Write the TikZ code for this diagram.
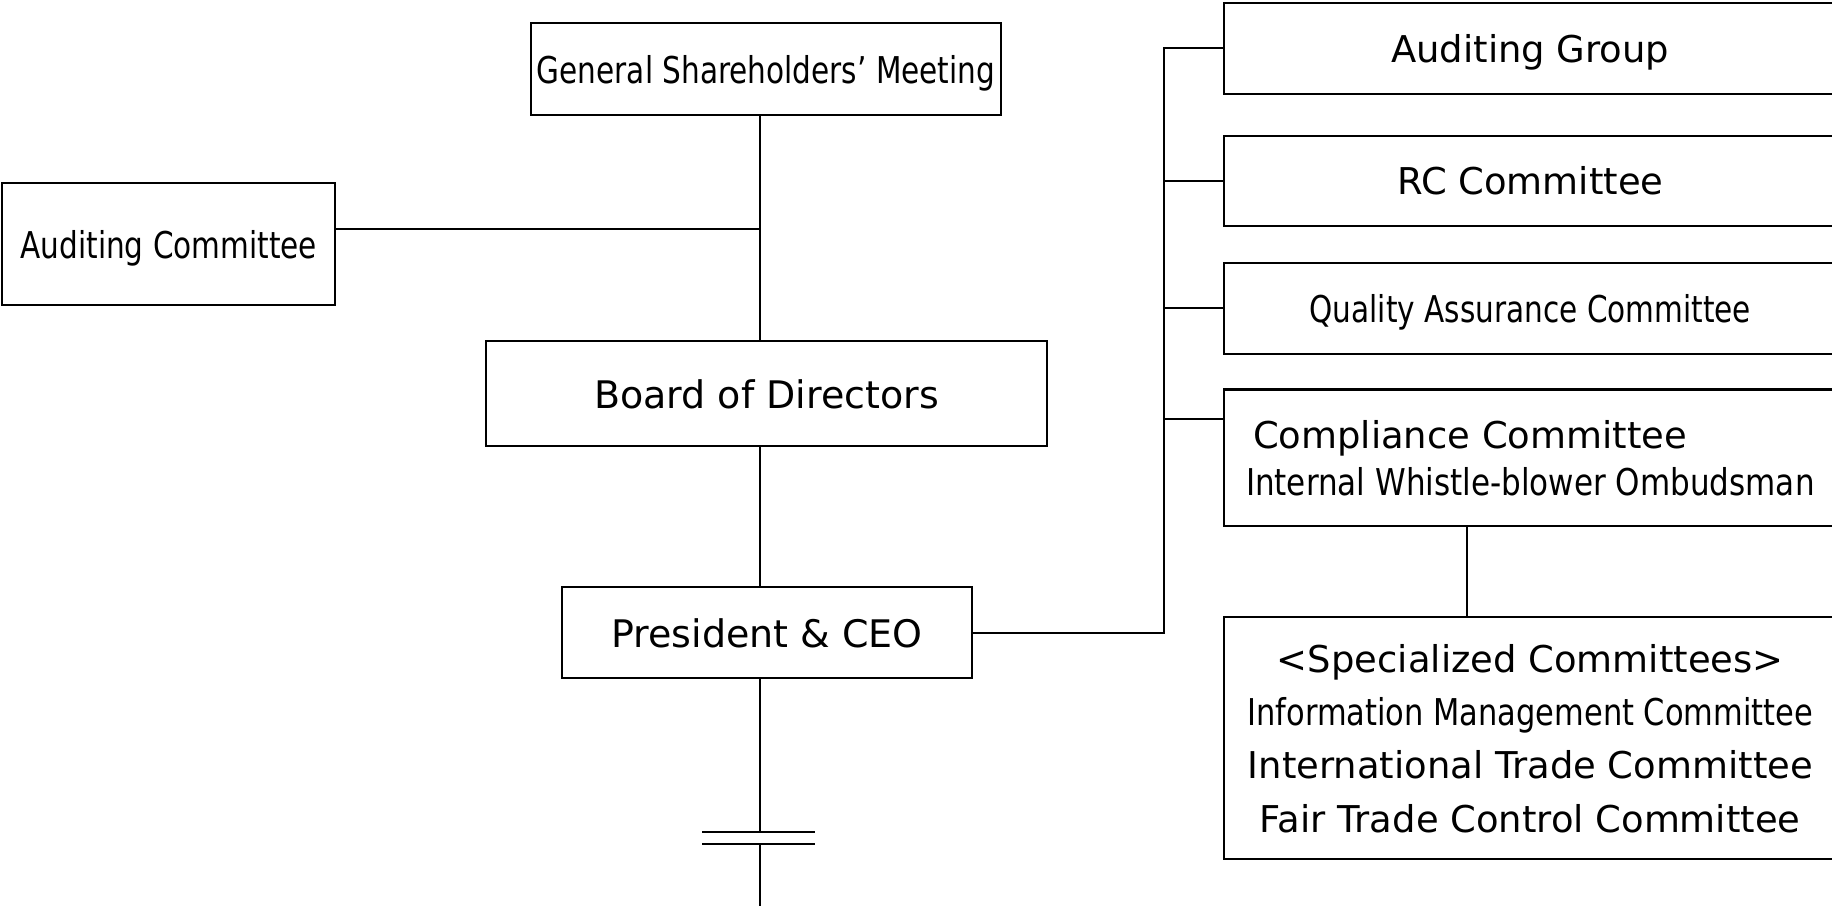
\documentclass[tikz,border=0pt]{standalone}
\usepackage{fontspec}
\usepackage{graphicx}
\setmainfont{DejaVu Sans}
\newcommand{\narrow}[2][0.8]{\scalebox{#1}[1]{#2}}
\tikzstyle{box}=[draw,line width=0.6pt,inner sep=0pt,text depth=0pt,font=\fontsize{10.5}{13.3}\selectfont]
\tikzstyle{rbox}=[box,minimum width=6.115cm]
\tikzstyle{link}=[line width=0.6pt]

\begin{document}
\begin{tikzpicture}[x=0.01cm,y=-0.01cm]
\useasboundingbox (0,0) rectangle (1832,906);

\node[box,minimum width=4.69cm,minimum height=0.916cm] at (766,69.2) (gsm) {\narrow{General Shareholders' Meeting}};
\node[box,minimum width=3.33cm,minimum height=1.216cm] at (168.8,244.2) (ac) {\narrow{Auditing Committee}};
\node[box,minimum width=5.61cm,minimum height=1.051cm,font=\fontsize{10.8}{13}\selectfont] at (766.5,393.8) (bod) {Board of Directors};
\node[box,minimum width=4.1cm,minimum height=0.904cm,font=\fontsize{10.8}{13}\selectfont] at (767,632.6) (ceo) {President \& CEO};

\node[rbox,minimum height=0.909cm] at (1530.3,48.4) (ag) {Auditing Group};
\node[rbox,minimum height=0.906cm] at (1530.3,180.9) (rc) {RC Committee};
\node[rbox,minimum height=0.906cm] at (1530.3,308.3) (qa) {\narrow{Quality Assurance Committee}};
\node[rbox,minimum height=1.363cm,align=left] at (1530.3,457.7) (cc) {\hspace*{2pt}Compliance Committee\\\narrow[0.84]{Internal Whistle-blower Ombudsman}};
\node[rbox,minimum height=2.417cm,align=center,font=\fontsize{10.5}{15.2}\selectfont] at (1530.3,738.2) (sc) {<Specialized Committees>\\\narrow[0.825]{Information Management Committee}\\International Trade Committee\\Fair Trade Control Committee};

\coordinate (trunk) at (760,0);
\coordinate (acjoin) at (760,229);
\coordinate (bus) at (1164,48);
\coordinate (cctick) at (1164,419);
\coordinate (spine) at (1467,0);
\coordinate (cut) at (760,832);
\coordinate (cutlow) at (760,844);
\coordinate (bottom) at (760,906);

\draw[link] (gsm.south -| trunk) -- (bod.north -| trunk);
\draw[link] (acjoin) -- (acjoin -| ac.east);
\draw[link] (bod.south -| trunk) -- (ceo.north -| trunk);
\draw[link] (ceo.east) -| (bus) -- (bus -| ag.west);
\draw[link] (bus |- rc.west) -- (rc.west);
\draw[link] (bus |- qa.west) -- (qa.west);
\draw[link] (cctick) -- (cctick -| cc.west);
\draw[link] (cc.south -| spine) -- (sc.north -| spine);

% break in the line below the president
\draw[link] (ceo.south -| trunk) -- (cut);
\draw[link] (cut) ++(-58,0) -- ++(113,0);
\draw[link] (cutlow) ++(-58,0) -- ++(113,0);
\draw[link] (cutlow) -- (bottom);
\end{tikzpicture}
\end{document}
